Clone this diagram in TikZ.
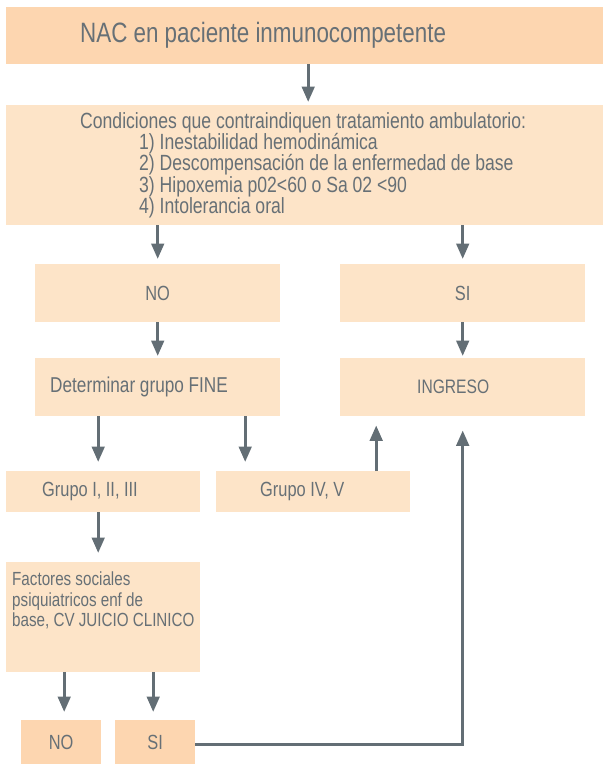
\documentclass[tikz,border=0pt]{standalone}
\usepackage{fontspec}
\setmainfont{Liberation Sans}[FakeStretch=0.8]
\usetikzlibrary{positioning, calc, arrows.meta}
\definecolor{peach}{HTML}{FDD6B0}
\definecolor{peachlight}{HTML}{FDE4C8}
\definecolor{inkgray}{HTML}{677076}
\definecolor{arrowgray}{HTML}{636E75}

\begin{document}
\begin{tikzpicture}[x=1pt, y=-1pt, text=inkgray,
                    font=\fontsize{20.5}{21.3}\selectfont,
                    every node/.style={inner sep=0pt, anchor=north west,
                                       execute at begin node={\spaceskip=0.22em plus 0.05em\relax}},
                    block/.style={rectangle, fill=peachlight, align=left},
                    darkblock/.style={block, fill=peach},
                    arr/.style={-{Triangle[width=12.5pt,length=15.5pt]}, line width=3.2pt, draw=arrowgray}]
    \useasboundingbox (0,0) rectangle (605,764);
    \node (nac)   [darkblock, minimum height=57pt, text width=449pt, inner xsep=74pt,
                   font=\fontsize{28}{30}\selectfont] at (6,7) {NAC en paciente inmunocompetente};
    \node (cond)  [block, minimum height=120pt, text width=475pt, inner xsep=61pt,
                   font=\fontsize{22}{21.3}\selectfont] at (6,105)
                  {\hspace*{13pt}Condiciones que contraindiquen tratamiento ambulatorio:\\
                   \hspace*{72pt}1) Inestabilidad hemodinámica\\
                   \hspace*{72pt}2) Descompensación de la enfermedad de base\\
                   \hspace*{72pt}3) Hipoxemia p02<60 o Sa 02 <90\\
                   \hspace*{72pt}4) Intolerancia oral};
    \node (no)    [block, align=center, minimum width=245pt, minimum height=58pt] at (35,264) {NO};
    \node (si)    [block, align=center, minimum width=245pt, minimum height=58pt] at (340,264) {SI};
    \node (fine)  [block, minimum height=58pt, text width=215pt, inner xsep=15pt,
                   font=\fontsize{21.5}{23}\selectfont] at (35,358) {Determinar grupo FINE};
    \node (ingr)  [block, minimum height=58pt, text width=91pt, inner xsep=77pt,
                   font=\fontsize{19.5}{21}\selectfont] at (340,358) {INGRESO};
    \node (g123)  [block, minimum height=41pt, text width=122pt, inner xsep=36pt] at (6,471) {Grupo I, II, III};
    \node (g45)   [block, minimum height=41pt, text width=106pt, inner xsep=44pt] at (216,471) {Grupo IV, V};
    \node (fact)  [block, inner xsep=6pt, inner ysep=10pt, font=\fontsize{19}{20.5}\selectfont] at (6,562)
                  {\parbox[c][90pt][t]{182pt}{\raggedright\spaceskip=0.22em\relax Factores sociales\\
                   psiquiatricos enf de\\ \mbox{base, CV JUICIO CLINICO}}};
    \node (no2)   [darkblock, align=center, minimum width=80pt, minimum height=44pt] at (21,720) {NO};
    \node (si2)   [darkblock, align=center, minimum width=80pt, minimum height=44pt] at (115,720) {SI};

    \draw[arr, shorten >=3pt] ([xshift=3.5pt]nac.south) -- ([xshift=3.5pt]nac.south |- cond.north);
    \draw[arr, shorten >=5pt] (no.north |- cond.south) -- (no.north);
    \draw[arr, shorten >=5pt] (si.north |- cond.south) -- (si.north);
    \draw[arr, shorten >=2pt] (no.south) -- (fine.north);
    \draw[arr, shorten >=2pt] (si.south) -- (ingr.north);
    \draw[arr, shorten >=9pt] ([xshift=-5pt]g123.north |- fine.south) -- ([xshift=-5pt]g123.north);
    \draw[arr, shorten >=9pt] ([xshift=-68pt]g45.north |- fine.south) -- ([xshift=-68pt]g45.north);
    \draw[arr, shorten >=9pt] ([xshift=63pt]g45.north) -- ([xshift=63pt]g45.north |- ingr.south);
    \draw[arr, shorten >=9pt] ([xshift=-5pt]g123.south) -- ([xshift=-5pt]g123.south |- fact.north);
    \draw[arr, shorten >=8pt] ([xshift=3pt]no2.north |- fact.south) -- ([xshift=3pt]no2.north);
    \draw[arr, shorten >=8pt] ([xshift=-2pt]si2.north |- fact.south) -- ([xshift=-2pt]si2.north);
    \draw[arr, shorten >=14pt] ([yshift=-2pt]si2.east) -| (ingr.south);
\end{tikzpicture}
\end{document}
